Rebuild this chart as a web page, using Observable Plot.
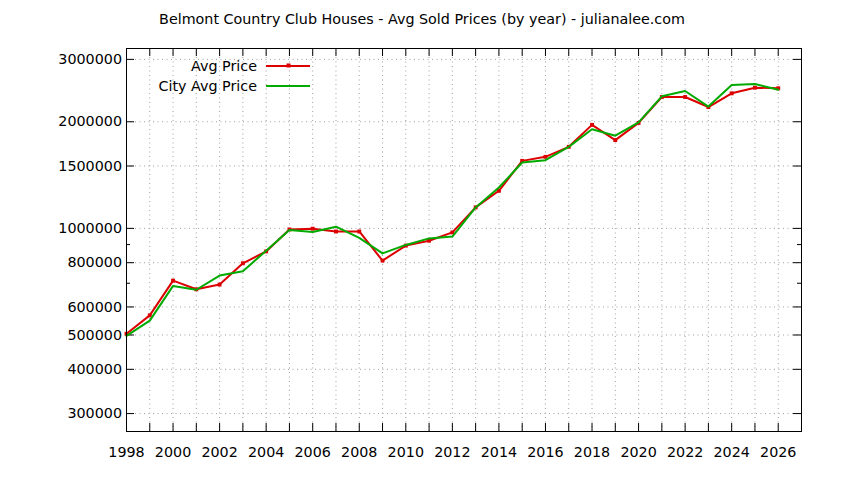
<!DOCTYPE html>
<html>
<head>
<meta charset="utf-8">
<script src="https://cdn.jsdelivr.net/npm/d3@7"></script>
<script src="https://cdn.jsdelivr.net/npm/@observablehq/plot@0.6"></script>
<style>
  html, body { margin: 0; padding: 0; background: #fff; }
  body { width: 844px; height: 480px; overflow: hidden; font-family: "DejaVu Sans", sans-serif; position: relative; }
  #title { height: 38px; line-height: 38px; text-align: center; font-size: 14.3px; color: #000; }
  .leg { position: absolute; font-size: 14.3px; line-height: 20px; color: #000; }
  .legtxt { position: absolute; right: 587px; white-space: nowrap; text-align: right; }
  .legline { position: absolute; left: 266px; width: 44px; }
</style>
</head>
<body>
<div id="title">Belmont Country Club Houses - Avg Sold Prices (by year) - julianalee.com</div>
<div id="chart"></div>
<script>
const years = [1998,1999,2000,2001,2002,2003,2004,2005,2006,2007,2008,2009,2010,2011,2012,2013,2014,2015,2016,2017,2018,2019,2020,2021,2022,2023,2024,2025,2026];
const avgPrice = [504000,568000,712000,673000,694000,797000,861000,993000,998000,980000,980000,811000,894000,923000,974000,1146000,1277000,1551000,1592000,1699000,1960000,1775000,1985000,2349000,2349000,2201000,2406000,2496000,2486000];
const cityAvgPrice = [497000,549000,688000,671000,736000,757000,865000,990000,977000,1011000,940000,850000,898000,937000,948000,1146000,1304000,1535000,1558000,1699000,1905000,1827000,1993000,2360000,2443000,2207000,2540000,2555000,2463000];
const xTickLabels = [1998,2000,2002,2004,2006,2008,2010,2012,2014,2016,2018,2020,2022,2024,2026];
const xTickMarks = [1999,2000,2001,2002,2003,2004,2005,2006,2007,2008,2009,2010,2011,2012,2013,2014,2015,2016,2017,2018,2019,2020,2021,2022,2023,2024,2025,2026];
const yTickLabels = [300000,400000,500000,600000,800000,1000000,1500000,2000000,3000000];
const yMinorTicks = [700000,900000];
const seriesNames = ["Avg Price","City Avg Price"];
const seriesColors = ["#dd0000","#00aa00"];

const rows = years.map((y,i) => ({year: y, avg: avgPrice[i], city: cityAvgPrice[i]}));

const W = 844, H = 442;
const mL = 126, mR = 43, mT = 10, mB = 49;
const fw = W - mL - mR, fh = H - mT - mB;
const gridStyle = {stroke: "#a0a0a0", strokeWidth: 1, strokeDasharray: "1,3.5"};

const chart = Plot.plot({
  width: W, height: H,
  marginLeft: mL, marginRight: mR, marginTop: mT, marginBottom: mB,
  style: {fontFamily: "DejaVu Sans, sans-serif", fontSize: "14.3px", color: "#000", background: "#fff"},
  x: {type: "linear", domain: [1998, 2027]},
  y: {type: "log", domain: [267000, 3220000]},
  marks: [
    Plot.ruleX(xTickMarks, {x: d => d, ...gridStyle}),
    Plot.ruleY(yTickLabels, {y: d => d, ...gridStyle}),
    Plot.tickX(xTickMarks, {x: d => d, insetTop: fh - 8, stroke: "#000"}),
    Plot.tickX(xTickMarks, {x: d => d, insetBottom: fh - 8, stroke: "#000"}),
    Plot.tickY(yTickLabels, {y: d => d, insetRight: fw - 8, stroke: "#000"}),
    Plot.tickY(yTickLabels, {y: d => d, insetLeft: fw - 8, stroke: "#000"}),
    Plot.tickY(yMinorTicks, {y: d => d, insetRight: fw - 4, stroke: "#000"}),
    Plot.tickY(yMinorTicks, {y: d => d, insetLeft: fw - 4, stroke: "#000"}),
    Plot.axisX({ticks: xTickLabels, tickSize: 0, tickPadding: 15, tickFormat: d => String(d), label: null, fontSize: 14.3}),
    Plot.axisY({ticks: yTickLabels, tickSize: 0, tickPadding: 4.5, tickFormat: d => String(d), label: null, fontSize: 14.3}),
    Plot.line(rows, {x: "year", y: "avg", stroke: seriesColors[0], strokeWidth: 2}),
    Plot.dot(rows, {x: "year", y: "avg", fill: seriesColors[0], r: 2.2, symbol: "square"}),
    Plot.line(rows, {x: "year", y: "city", stroke: seriesColors[1], strokeWidth: 2}),
    Plot.frame({stroke: "#000", strokeWidth: 1})
  ]
});
document.getElementById("chart").appendChild(chart);

// legend
const legendTops = [56, 76];
seriesNames.forEach((name, i) => {
  const t = document.createElement("div");
  t.className = "leg legtxt";
  t.style.top = legendTops[i] + "px";
  t.textContent = name;
  document.body.appendChild(t);
  const ns = "http://www.w3.org/2000/svg";
  const s = document.createElementNS(ns, "svg");
  s.setAttribute("width", 44); s.setAttribute("height", 20);
  s.setAttribute("class", "leg legline");
  s.style.top = legendTops[i] + "px";
  const l = document.createElementNS(ns, "line");
  l.setAttribute("x1", 0); l.setAttribute("x2", 44); l.setAttribute("y1", 10); l.setAttribute("y2", 10);
  l.setAttribute("stroke", seriesColors[i]); l.setAttribute("stroke-width", 2);
  s.appendChild(l);
  if (i === 0) {
    const r = document.createElementNS(ns, "rect");
    r.setAttribute("x", 20.5); r.setAttribute("y", 7.5); r.setAttribute("width", 4); r.setAttribute("height", 4);
    r.setAttribute("fill", seriesColors[i]);
    s.appendChild(r);
  }
  document.body.appendChild(s);
});
</script>
</body>
</html>
